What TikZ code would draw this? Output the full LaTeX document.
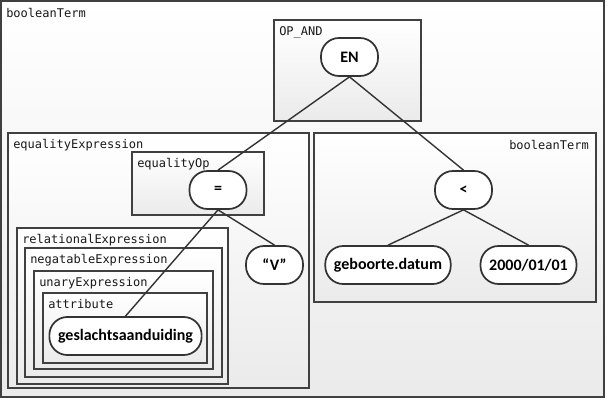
\documentclass[tikz,border=0pt]{standalone}
\usepackage{fontspec}
\setmainfont{Carlito}
\setmonofont{DejaVu Sans Mono}

\tikzset{
	frame/.style={draw=black!75,line width=0.8pt,top color=white,bottom color=black!8},
	rulename/.style={font=\ttfamily\fontsize{9}{11}\selectfont,inner sep=0pt,text=black!90},
	term/.style={draw=black!80,line width=1.3pt,fill=white,rectangle,rounded corners=13.5pt,
		minimum height=38*0.75pt,minimum width=57*0.75pt,inner xsep=6.5pt,
		font=\bfseries\fontsize{12}{14}\selectfont},
	link/.style={draw=black!80,line width=1.05pt}
}

\begin{document}
\begin{tikzpicture}[x=0.75pt,y=-0.75pt]
	\useasboundingbox (0,0) rectangle (607,400);
	% boxes
	\draw[frame] (1,1) rectangle (604,397);
	\draw[frame] (274,20) rectangle (421,121);
	\draw[frame] (8,133) rectangle (309,388);
	\draw[frame] (314,133) rectangle (596,302);
	\draw[frame] (132,152) rectangle (264,215);
	\draw[frame] (17,228) rectangle (228,384);
	\draw[frame] (25,248) rectangle (222,377);
	\draw[frame] (34,271) rectangle (213,369);
	\draw[frame] (43,293) rectangle (207,363);
	% box names
	\node[rulename,anchor=west] (lbool) at (6,13) {booleanTerm};
	\node[rulename,anchor=west] (lop) at (279,32) {OP\_AND};
	\node[rulename,anchor=west] (leqx) at (13,145) {equalityExpression};
	\node[rulename,anchor=east] (lboolr) at (589,145) {booleanTerm};
	\node[rulename,anchor=west] (leqop) at (137,164) {equalityOp};
	\node[rulename,anchor=west] (lrel) at (22,240) {relationalExpression};
	\node[rulename,anchor=west] (lneg) at (30,260) {negatableExpression};
	\node[rulename,anchor=west] (lun) at (39,283) {unaryExpression};
	\node[rulename,anchor=west] (lattr) at (48,304) {attribute};
	% terms
	\node[term] (en) at (349.5,57) {EN};
	\node[term] (eq) at (218,190) {=};
	\node[term] (lt) at (463.5,190) {<};
	\node[term] (v) at (274.5,265) {“V”};
	\node[term] (attr) at (125.5,336) {geslachtsaanduiding};
	\node[term] (datum) at (388,265) {geboorte.datum};
	\node[term] (date) at (528.5,265) {2000/01/01};
	% links
	\draw[link] (en.south) -- (eq.north);
	\draw[link] (en.south) -- (lt.north);
	\draw[link] (eq.south) -- (v.north);
	\draw[link] (eq.south) -- (attr.north);
	\draw[link] (lt.south) -- (datum.north);
	\draw[link] (lt.south) -- (date.north);
\end{tikzpicture}
\end{document}
